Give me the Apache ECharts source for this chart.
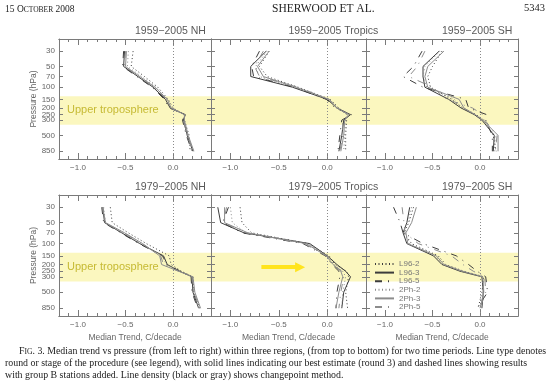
<!DOCTYPE html>
<html><head><meta charset="utf-8">
<script src="https://cdn.jsdelivr.net/npm/echarts@6/dist/echarts.min.js"></script>
<style>html,body{margin:0;padding:0;background:#fff}#c{width:550px;height:385px}</style>
</head><body><div id="c"></div>
<script>
// ---------- data ----------
const pressureLevels = [30, 50, 70, 100, 150, 200, 250, 300, 500, 850];
const yTickLabels = [30, 50, 70, 100, 150, 200, 250, 300, 500, 850];
const xTickLabels = [-1.0, -0.5, 0.0];
const seriesNames = ['L96-2', 'L96-3', 'L96-5', '2Ph-2', '2Ph-3', '2Ph-5'];
const panelTitles = ['1959\u22122005 NH', '1959\u22122005 Tropics', '1959\u22122005 SH',
                     '1979\u22122005 NH', '1979\u22122005 Tropics', '1979\u22122005 SH'];
const bandPressure = [135, 350];
const arrowTrend = [-0.68, -0.28];
const arrowPressure = 218;

// rows in seriesNames order, columns in pressureLevels order
const nh1959 = [
  [-0.42, -0.44, -0.30, -0.16, -0.05, 0.00, 0.12, 0.12, 0.17, 0.18],
  [-0.51, -0.52, -0.37, -0.21, -0.08, -0.03, 0.13, 0.11, 0.15, 0.21],
  [-0.52, -0.53, -0.38, -0.22, -0.09, -0.04, 0.13, 0.10, 0.14, 0.20],
  [-0.47, -0.48, -0.33, -0.18, -0.07, -0.02, 0.12, 0.11, 0.15, 0.20],
  [-0.49, -0.50, -0.35, -0.19, -0.06, -0.02, 0.12, 0.12, 0.16, 0.22],
  [-0.50, -0.51, -0.36, -0.20, -0.07, -0.03, 0.12, 0.11, 0.15, 0.21]
];
const tropics1959 = [
  [-0.60, -0.70, -0.62, -0.30, 0.03, 0.12, 0.20, 0.20, 0.19, 0.19],
  [-0.63, -0.79, -0.79, -0.36, 0.00, 0.10, 0.24, 0.17, 0.15, 0.12],
  [-0.70, -0.78, -0.76, -0.34, -0.01, 0.08, 0.25, 0.15, 0.13, 0.11],
  [-0.62, -0.74, -0.70, -0.33, 0.01, 0.11, 0.21, 0.19, 0.18, 0.17],
  [-0.60, -0.72, -0.66, -0.32, 0.02, 0.10, 0.22, 0.18, 0.17, 0.14],
  [-0.66, -0.75, -0.70, -0.31, 0.02, 0.09, 0.23, 0.16, 0.16, 0.13]
];
const sh1959 = [
  [-0.40, -0.50, -0.55, -0.52, -0.30, -0.18, -0.04, 0.04, 0.14, 0.17],
  [-0.43, -0.60, -0.60, -0.58, -0.33, -0.20, -0.06, 0.02, 0.15, 0.14],
  [-0.61, -0.70, -0.81, -0.60, -0.15, -0.12, 0.07, 0.06, 0.13, 0.13],
  [-0.42, -0.58, -0.60, -0.56, -0.27, -0.19, -0.05, 0.02, 0.16, 0.15],
  [-0.38, -0.55, -0.58, -0.55, -0.22, -0.17, -0.05, 0.03, 0.19, 0.19],
  [-0.58, -0.66, -0.75, -0.50, -0.35, -0.08, 0.03, 0.05, 0.18, 0.16]
];
const nh1979 = [
  [-0.66, -0.64, -0.47, -0.28, -0.04, -0.02, 0.09, 0.21, 0.22, 0.28],
  [-0.74, -0.72, -0.54, -0.35, -0.10, -0.06, 0.07, 0.20, 0.21, 0.27],
  [-0.75, -0.73, -0.55, -0.36, -0.11, -0.07, 0.08, 0.19, 0.20, 0.26],
  [-0.73, -0.71, -0.53, -0.34, -0.11, -0.07, 0.07, 0.20, 0.22, 0.27],
  [-0.74, -0.71, -0.51, -0.32, -0.14, -0.12, 0.06, 0.21, 0.23, 0.29],
  [-0.74, -0.72, -0.52, -0.33, -0.13, -0.10, 0.06, 0.20, 0.22, 0.28]
];
const tropics1979 = [
  [-0.90, -0.88, -0.78, -0.20, 0.02, 0.08, 0.20, 0.22, 0.19, 0.21],
  [-1.13, -1.10, -0.86, -0.18, 0.00, 0.10, 0.19, 0.24, 0.17, 0.15],
  [-1.02, -1.08, -0.88, -0.25, -0.02, 0.05, 0.12, 0.13, 0.10, 0.09],
  [-1.00, -0.98, -0.84, -0.21, 0.00, 0.07, 0.16, 0.19, 0.16, 0.15],
  [-1.06, -1.06, -0.82, -0.22, -0.01, 0.06, 0.14, 0.16, 0.12, 0.09],
  [-1.04, -1.07, -0.84, -0.24, -0.01, 0.06, 0.15, 0.17, 0.14, 0.12]
];
const sh1979 = [
  [-0.70, -0.75, -0.80, -0.72, -0.44, -0.36, -0.17, 0.04, 0.02, -0.02],
  [-0.74, -0.77, -0.81, -0.77, -0.49, -0.40, -0.21, 0.02, 0.035, 0.02],
  [-0.91, -0.84, -0.81, -0.60, -0.25, -0.12, -0.03, 0.06, 0.08, -0.03],
  [-0.72, -0.76, -0.80, -0.74, -0.47, -0.39, -0.20, 0.03, 0.03, 0.01],
  [-0.67, -0.72, -0.78, -0.76, -0.46, -0.38, -0.18, 0.03, 0.04, 0.00],
  [-0.82, -0.80, -0.79, -0.65, -0.30, -0.18, -0.07, 0.05, 0.06, 0.00]
];
const panelData = [nh1959, tropics1959, sh1959, nh1979, tropics1979, sh1979];

// ---------- layout / style ----------
const gridBoxes = [
  [59, 39, 152, 120], [211, 39, 155, 120], [366, 39, 152, 120],
  [59, 195, 152, 121], [211, 195, 155, 121], [366, 195, 152, 121]
];
const axisColor = '#7a7a7a';
const labelColor = '#666';
const sansFont = '"Liberation Sans", Arial, sans-serif';
const serifFont = '"Liberation Serif", "Times New Roman", serif';
const lineStyles = [
  {color: '#3c3c3c', width: 1, type: [1, 2.5]},
  {color: '#3c3c3c', width: 1, type: 'solid'},
  {color: '#3c3c3c', width: 1, type: [7, 6, 1, 6]},
  {color: '#8c8c8c', width: 1, type: [1, 2.5]},
  {color: '#8c8c8c', width: 1, type: 'solid'},
  {color: '#8c8c8c', width: 1, type: [7, 6, 1, 6]}
];
const lg = Math.log10;
const yMin = lg(20), yMax = lg(1100);
const yTicks = yTickLabels.map(lg);
const xMajor = xTickLabels.slice();

const grids = [], xAxes = [], yAxes = [], series = [], graphics = [];

function baseX(i, pos) {
  return {type: 'value', gridIndex: i, position: pos, min: -1.2, max: 0.4, silent: true,
    splitLine: {show: false}, z: 4,
    axisLine: {show: true, onZero: false, lineStyle: {color: axisColor, width: 1}},
    axisLabel: {show: false}};
}
gridBoxes.forEach((g, i) => {
  const bottomRow = i >= 3;
  grids.push({left: g[0], top: g[1], width: g[2], height: g[3], containLabel: false});
  const xb = baseX(i, 'bottom');
  xb.interval = 0.1;
  xb.axisTick = {show: true, inside: true, length: 3, lineStyle: {color: axisColor}};
  xb.axisLabel = {show: true, customValues: xTickLabels, fontSize: 8, color: labelColor,
    fontFamily: sansFont, margin: 5,
    formatter: v => (v < 0 ? '\u2212' : '') + Math.abs(v).toFixed(1)};
  if (bottomRow) {
    xb.name = 'Median Trend, C/decade';
    xb.nameLocation = 'middle';
    xb.nameGap = 17;
    xb.nameTextStyle = {fontSize: 8.5, color: labelColor, fontFamily: sansFont};
  }
  xAxes.push(xb);
  const xbm = baseX(i, 'bottom');
  xbm.axisTick = {show: true, inside: true, length: 6, customValues: xMajor, lineStyle: {color: axisColor}};
  xAxes.push(xbm);
  const xt = baseX(i, 'top');
  xt.interval = 0.1;
  xt.axisTick = {show: true, inside: true, length: 3, lineStyle: {color: axisColor}};
  xAxes.push(xt);
  const xtm = baseX(i, 'top');
  xtm.axisTick = {show: true, inside: true, length: 6, customValues: xMajor, lineStyle: {color: axisColor}};
  xAxes.push(xtm);

  const leftLabels = (i % 3 === 0);
  yAxes.push({type: 'value', gridIndex: i, position: 'left', inverse: true, min: yMin, max: yMax,
    silent: true, z: 4, splitLine: {show: false},
    axisLine: {show: true, onZero: false, lineStyle: {color: axisColor, width: 1}},
    axisTick: {show: true, inside: true, length: 4, customValues: yTicks, lineStyle: {color: axisColor}},
    axisLabel: {show: leftLabels, customValues: yTicks, fontSize: 8, color: labelColor,
      fontFamily: sansFont, margin: 4, formatter: v => String(Math.round(Math.pow(10, v)))},
    name: leftLabels ? 'Pressure (hPa)' : '', nameLocation: 'middle', nameRotate: 90, nameGap: 21,
    nameTextStyle: {fontSize: 8.5, color: labelColor, fontFamily: sansFont}});
  yAxes.push({type: 'value', gridIndex: i, position: 'right', inverse: true, min: yMin, max: yMax,
    silent: true, z: 4, splitLine: {show: false},
    axisLine: {show: true, onZero: false, lineStyle: {color: axisColor, width: 1}},
    axisTick: {show: true, inside: true, length: 4, customValues: yTicks, lineStyle: {color: axisColor}},
    axisLabel: {show: false}});

  const vals = panelData[i];
  seriesNames.forEach((nm, s) => {
    const ser = {
      type: 'line', name: nm, xAxisIndex: 4 * i, yAxisIndex: 2 * i,
      data: pressureLevels.map((p, k) => [vals[s][k], lg(p)]),
      symbol: 'none', showSymbol: false, silent: true, animation: false,
      lineStyle: lineStyles[s], itemStyle: {color: lineStyles[s].color}, z: 3
    };
    if (s === 0) {
      ser.markArea = {silent: true, z: 1,
        itemStyle: {color: '#FBF7BF'},
        label: {show: leftLabels, position: 'insideLeft', distance: 8, color: '#C6BA33',
          fontSize: 11, fontFamily: sansFont},
        data: [[{yAxis: lg(bandPressure[0]), name: 'Upper troposphere'}, {yAxis: lg(bandPressure[1])}]]};
      ser.markLine = {silent: true, symbol: 'none', label: {show: false}, animation: false,
        lineStyle: {color: '#8a8a8a', width: 1, type: [1, 2]},
        data: [{xAxis: 0, lineStyle: {color: '#8a8a8a', width: 1, type: [1, 2]}}]};
      if (i === 4) {
        ser.markLine.data.push([
          {coord: [arrowTrend[0], lg(arrowPressure)], symbol: 'none',
           lineStyle: {color: '#FFE41E', width: 4, type: 'solid'}},
          {coord: [arrowTrend[1], lg(arrowPressure)], symbol: 'triangle', symbolSize: 10}
        ]);
      }
    }
    series.push(ser);
  });

  graphics.push({type: 'text', left: g[0] + g[2] / 2, top: g[1] - 13, silent: true,
    style: {text: panelTitles[i], fill: '#5a5a5a', font: '10.5px ' + sansFont, textAlign: 'center'}});
});

// header and caption
graphics.push({type: 'text', left: 5, top: 4, silent: true, style: {
  text: '{a|15 O}{b|CTOBER}{a| 2008}',
  rich: {a: {font: '9.5px ' + serifFont, fill: '#222', verticalAlign: 'bottom'},
         b: {font: '7.5px ' + serifFont, fill: '#222', verticalAlign: 'bottom'}}}});
graphics.push({type: 'text', left: 272, top: 3, silent: true, style: {
  text: 'SHERWOOD ET AL.', font: '11.5px ' + serifFont, fill: '#222', textAlign: 'center'}});
graphics.push({type: 'text', right: 5, top: 3, silent: true, style: {
  text: '5343', font: '10.5px ' + serifFont, fill: '#222'}});
const captionLines = [
  '. 3. Median trend vs pressure (from left to right) within three regions, (from top to bottom) for two time periods. Line type denotes',
  'round or stage of the procedure (see legend), with solid lines indicating our best estimate (round 3) and dashed lines showing results',
  'with group B stations added. Line density (black or gray) shows changepoint method.'
];
graphics.push({type: 'text', left: 19, top: 346, silent: true, style: {
  text: '{a|F}{b|IG}{a|' + captionLines[0] + '}',
  rich: {a: {font: '9.85px ' + serifFont, fill: '#222', verticalAlign: 'bottom'},
         b: {font: '7.6px ' + serifFont, fill: '#222', verticalAlign: 'bottom'}}}});
graphics.push({type: 'text', left: 5, top: 358, silent: true, style: {
  text: captionLines[1], font: '9.9px ' + serifFont, fill: '#222'}});
graphics.push({type: 'text', left: 5, top: 370, silent: true, style: {
  text: captionLines[2], font: '9.9px ' + serifFont, fill: '#222'}});

const chart = echarts.init(document.getElementById('c'), null, {renderer: 'canvas'});
chart.setOption({
  animation: false,
  backgroundColor: '#fff',
  grid: grids, xAxis: xAxes, yAxis: yAxes, series: series,
  legend: {data: seriesNames, orient: 'vertical', left: 374, top: 260, padding: 0,
    itemWidth: 19, itemHeight: 8, itemGap: 0.6, selectedMode: false,
    itemStyle: {opacity: 0},
    textStyle: {fontSize: 8, color: '#777', fontFamily: sansFont, lineHeight: 8}},
  graphic: graphics
});
</script></body></html>
